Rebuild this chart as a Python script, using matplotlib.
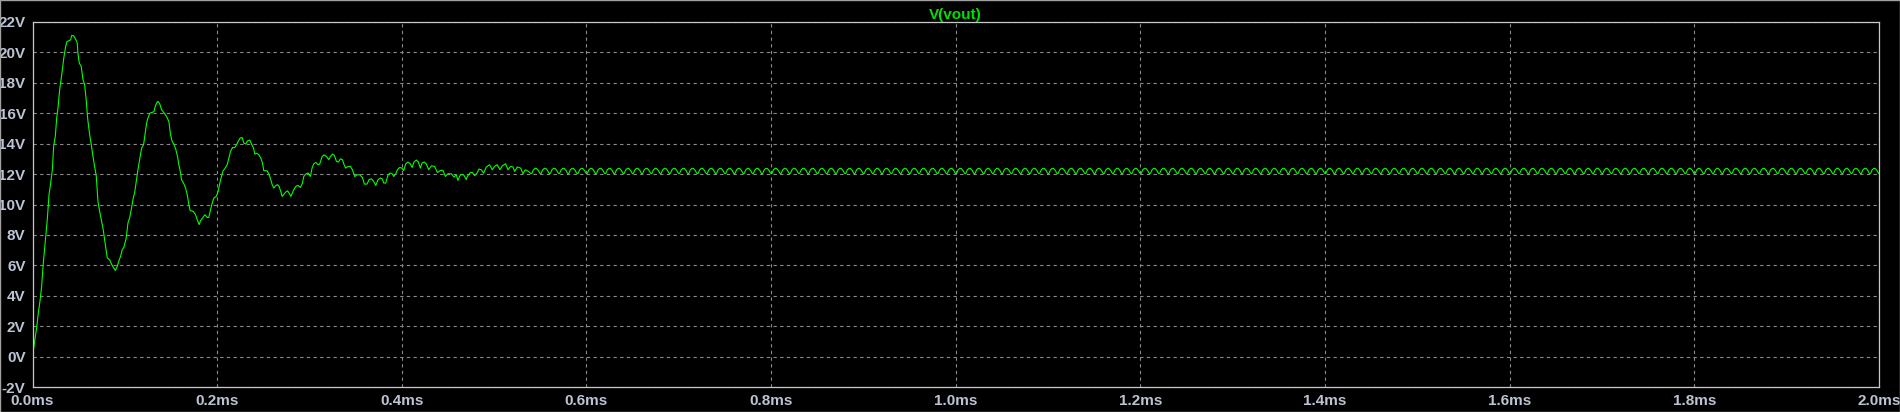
import numpy as np
import matplotlib
matplotlib.use("Agg")
import matplotlib.pyplot as plt
from matplotlib.patches import Rectangle

# V(vout) transient (time in us, volts)
t_start_us = [
    0, 2.3, 4.5, 6.3, 8.1, 9.9, 11.7, 13.9, 16.0, 17.9, 19.7, 21.5, 22.9, 24.7,
    26.2, 27.6, 29.4, 31.2, 32.7, 34.1, 35.9, 37.3, 41.3, 42.4, 44.6, 46.7, 48.5,
    49.2, 50.7, 52.8, 54.7, 56.5, 58.3, 59.7, 61.9, 63.7, 65.5, 67.3, 69.1, 70.9,
    72.7, 74.5, 76.3, 78.1, 79.5, 81.0, 83.5, 86.0, 88.2, 89.6, 91.8, 93.3, 95.4,
    97.2, 99.0, 101.5, 103.4, 105.2, 107.3, 109.1, 110.6, 112.4, 114.2, 116.0,
    118.2, 120.3, 122.1, 123.6, 125.0, 127.2, 131.5, 132.9, 134.4, 135.8,
    137.6, 139.8, 142.7, 145.2, 147.7, 149.5, 151.3, 153.5, 155.3, 157.1, 158.5,
    160.4, 161.4, 163.6, 165.8, 167.6, 169.4, 170.8, 174.1, 176.6, 178.4, 180.5,
    182.0, 184.2, 186.7, 189.2, 191.0, 192.8, 194.6, 196.4, 199.0, 201.1, 202.9,
    204.7, 206.5, 208.3, 210.9, 212.7, 214.5, 216.6, 219.2, 221.0, 222.8, 224.9,
    227.1, 228.9, 231.1, 232.9, 235.4, 237.2, 239.4, 240.8, 243.0, 245.1, 247.3,
    249.1, 250.5, 254.1, 256.3, 258.1, 259.6, 261.4, 263.5, 265.3, 267.1, 268.9,
    270.4, 272.5, 274.4, 276.2, 278.0, 279.8,
    283.0, 285.2, 287.7, 290.2, 292.4, 293.8, 296.0, 298.5, 301.0, 302.8, 304.6,
    306.8, 309.3, 311.1, 313.7, 315.8, 318.4, 320.9, 322.7, 324.9, 327.0, 329.2,
    331.4, 333.5, 335.7, 337.5, 339.3, 341.8, 344.3, 346.5, 349.0, 351.9, 354.4,
    357.3, 359.5, 362.4, 364.5, 367.1, 369.6, 371.8, 374.3, 376.8, 379.0, 380.4,
    382.6, 385.1, 387.6, 389.8, 391.2, 393.4, 395.2, 397.7, 400.2, 402.0, 404.2,
    406.7, 409.3, 411.1, 413.2, 415.8, 417.9, 420.1, 421.9, 424.4, 426.6,
    429.1, 432.0, 435.6, 438.5, 442.1, 444.6, 447.2, 450.0, 453.6, 456.5, 459.0,
    460.8, 463.4, 467.0, 469.9, 471.0, 474.2, 476.4, 478.9, 481.4, 483.6, 486.1,
    488.6, 491.5, 495.1, 498.0, 500.5, 503.4, 506.3, 508.8, 512.4, 515.0, 517.9,
    520.4, 522.2, 525.1, 528.7, 531.2, 533.7, 537.3,
]
v_start = [
    0.0, 1.02, 1.90, 2.89, 3.65, 4.63, 6.16, 7.58, 9.00, 10.64, 11.41, 12.28, 13.81, 14.47,
    15.67, 16.33, 17.53, 18.30, 19.06, 19.71, 20.37, 20.69, 20.81, 21.09, 21.07, 20.85, 20.59,
    19.93, 19.28, 19.06, 18.19, 17.86, 16.77, 15.67, 14.58, 13.92, 13.16, 12.50, 11.84, 10.20,
    9.55, 9.00, 8.46, 7.69, 7.04, 6.49, 6.37, 6.04, 5.82, 5.67, 5.93, 6.26, 6.59,
    7.04, 7.19, 7.80, 8.79, 9.12, 9.77, 10.43, 10.76, 11.52, 12.28, 12.94,
    13.70, 13.92, 14.68, 15.34, 15.67, 16.00, 16.09, 16.43, 16.66, 16.77,
    16.65, 16.22, 16.00, 15.78, 15.45, 14.58, 14.14, 13.92, 13.59, 13.15, 12.61,
    12.07, 11.63, 11.41, 11.08, 10.64, 9.99, 9.60, 9.55, 9.33, 9.00, 8.68,
    8.94, 9.11, 9.33, 9.15, 9.15, 9.66, 10.09, 10.42, 10.53, 10.86, 11.41,
    11.84, 12.22, 12.35, 12.61, 13.05, 13.48, 13.74, 13.74, 13.92, 14.14, 14.36,
    14.40, 14.03, 13.97, 14.18, 14.23, 13.97, 13.70, 13.31, 13.37, 13.26, 13.05,
    12.72, 12.22, 12.22, 11.95, 11.63, 11.30, 11.08, 11.23, 11.30, 11.19, 10.86,
    10.53, 10.69, 10.82, 10.90, 10.75, 10.53,
    10.97, 11.19, 11.25, 11.12, 11.41, 11.84, 12.00, 12.07, 11.84, 12.39, 12.66,
    12.76, 12.61, 12.66, 13.15, 13.26, 13.15, 12.94, 13.15, 13.31, 13.22, 12.83,
    12.79, 13.00, 12.94, 12.61, 12.39, 12.50, 12.50, 12.28, 11.84, 11.95, 11.95,
    11.78, 11.34, 11.34, 11.63, 11.69, 11.52, 11.25, 11.63, 11.74, 11.67, 11.41,
    11.41, 11.95, 12.07, 12.00, 11.84, 12.00, 12.28, 12.43, 12.39, 12.22, 12.66,
    12.79, 12.66, 12.43, 12.79, 12.92, 12.79, 12.39, 12.72, 12.79, 12.66,
    12.28, 12.54, 12.50, 12.10, 12.24, 12.24, 11.84, 12.02, 12.02, 11.80, 11.95,
    11.58, 11.95, 11.95, 11.63, 11.84, 12.10, 12.10, 11.89, 12.06, 12.33, 12.28,
    12.06, 12.46, 12.61, 12.28, 12.50, 12.61, 12.28, 12.54, 12.68, 12.28, 12.50,
    12.46, 12.17, 12.46, 12.39, 12.02, 12.28, 12.17,
]

# steady state: the same 10 us ripple cycle repeats until the end of the run
ripple_period_us = 10.0
ripple_phase = [0.0, 0.1, 0.25, 0.45, 0.6, 0.8, 0.9]
ripple_v = [12.02, 12.05, 12.27, 12.38, 12.36, 12.22, 12.10]
steady_from_us = 540.0
t_end_us = 2000.0

x_ticks_ms = [0.0, 0.2, 0.4, 0.6, 0.8, 1.0, 1.2, 1.4, 1.6, 1.8, 2.0]
y_ticks_v = [-2, 0, 2, 4, 6, 8, 10, 12, 14, 16, 18, 20, 22]

n_cycles = int(round((t_end_us - steady_from_us) / ripple_period_us))
t_ss = [steady_from_us + ripple_period_us * (k + p) for k in range(n_cycles) for p in ripple_phase]
v_ss = ripple_v * n_cycles

t_ms = np.array(t_start_us + t_ss + [t_end_us]) / 1000.0
v = np.array(v_start + v_ss + [ripple_v[0]])

fig = plt.figure(figsize=(19, 4.12), dpi=100, facecolor="black")
ax = fig.add_axes([32.5 / 1900, 1 - 387.3 / 412, (1879 - 32.5) / 1900, (387.3 - 21.7) / 412])
ax.set_facecolor("black")

ax.plot(t_ms, v, color="#00ff00", lw=0.8)

ax.set_xlim(0, 2.0)
ax.set_ylim(-2, 22)
ax.set_xticks(x_ticks_ms)
ax.set_xticklabels(["%.1fms" % x for x in x_ticks_ms])
ax.set_yticks(y_ticks_v)
ax.set_yticklabels(["%dV" % y for y in y_ticks_v])

lab_col = "#bcc4d4"
for lab in ax.get_xticklabels() + ax.get_yticklabels():
    lab.set_fontfamily("Liberation Sans")
    lab.set_fontweight("bold")
    lab.set_fontsize(11)
    lab.set_color(lab_col)
ax.tick_params(axis="both", length=0)
ax.tick_params(axis="x", pad=5)
ax.tick_params(axis="y", pad=5)

ax.grid(True, color="#8a8a8a", linestyle=(0, (3, 3)), lw=0.8)
for s in ax.spines.values():
    s.set_color("#c8c8c8")
    s.set_linewidth(0.9)

ax.set_title("V(vout)", color="#00e000", fontfamily="Liberation Sans",
             fontweight="bold", fontsize=11, pad=2)

# thin window frame around the whole picture
fig.patches.append(Rectangle((0, 0), 1, 1, transform=fig.transFigure, fill=False,
                             edgecolor="#a0a0a0", lw=1.0))

fig.savefig("out.png", dpi=100, facecolor="black")
